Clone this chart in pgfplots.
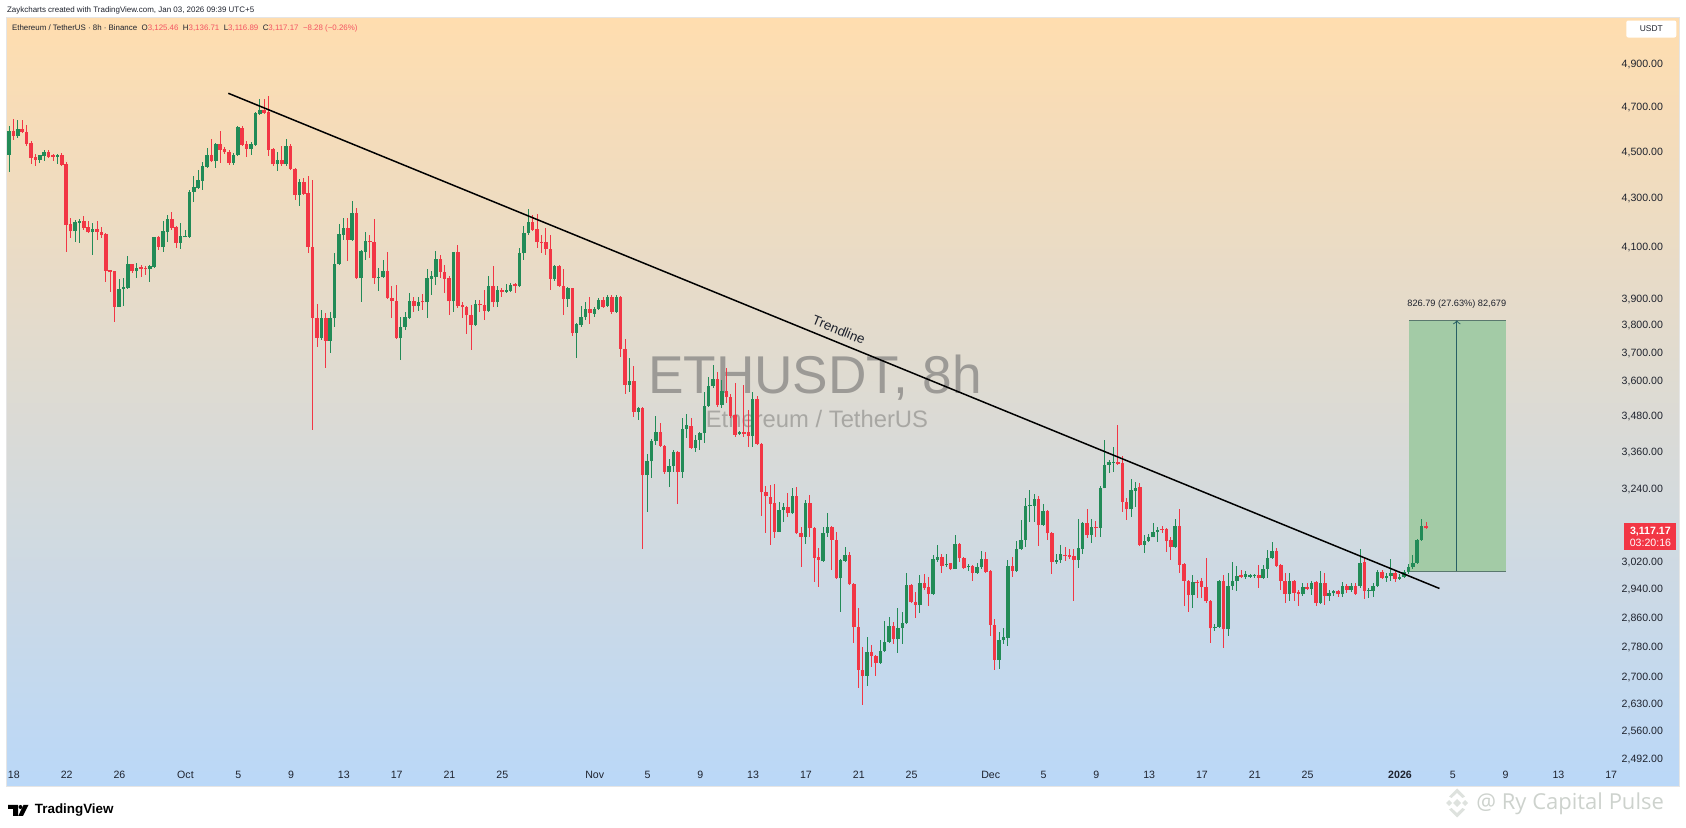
\documentclass[border=0pt]{standalone}
\usepackage{fontspec}
\setmainfont{Liberation Sans}
\newfontfamily\wmfont{Open Sans}
\usepackage{pgfplots}
\usepackage{pgfplotstable}
\pgfplotsset{compat=1.18}
\definecolor{tvg}{HTML}{228B57}
\definecolor{tvr}{HTML}{F23645}
\definecolor{tvtxt}{HTML}{1E222D}
\definecolor{rectg}{HTML}{A3CBA6}
\newcommand{\fs}[1]{\fontsize{#1}{#1}\selectfont}
\pgfplotstableread{
n top bot hi lo
1 4588 4483 4611 4408
3 4596 4566 4638 4556
8 4480 4460 4483 4447
9 4495 4476 4505 4454
12 4480 4474 4487 4442
16 4197 4161 4208 4120
17 4201 4194 4211 4113
20 4169 4157 4194 4067
26 3935 3867 3972 3867
27 3941 3933 3976 3870
28 4030 3940 4063 3937
30 4016 4002 4034 3976
33 4021 4011 4028 3963
34 4137 4018 4140 4017
36 4163 4100 4201 4080
37 4212 4160 4228 4120
40 4141 4115 4194 4090
41 4142 4137 4167 4137
42 4325 4140 4330 4137
43 4344 4325 4389 4283
44 4372 4340 4418 4335
45 4435 4371 4451 4333
46 4483 4431 4512 4425
48 4531 4454 4534 4425
52 4483 4447 4490 4439
53 4605 4483 4611 4480
56 4528 4509 4537 4483
57 4668 4527 4672 4524
58 4680 4665 4731 4661
62 4458 4441 4493 4411
64 4523 4441 4553 4436
67 4365 4310 4378 4263
72 3824 3752 3855 3744
74 3824 3742 3849 3696
75 4032 3824 4076 3793
76 4149 4030 4191 4028
77 4174 4146 4215 4127
79 4235 4127 4286 4124
81 4083 3976 4087 3886
82 4121 4078 4160 4047
85 3982 3976 4015 3927
86 4002 3980 4045 3976
90 3790 3750 3830 3672
91 3828 3790 3849 3780
92 3888 3826 3918 3824
94 3885 3871 3905 3852
96 3976 3883 4011 3824
97 3983 3975 4002 3912
98 4052 3979 4084 3951
102 4078 3887 4080 3849
107 3878 3799 3893 3796
110 3945 3852 3985 3849
112 3930 3883 3945 3868
114 3929 3924 3955 3922
115 3951 3927 3957 3923
117 4073 3945 4095 3943
118 4155 4073 4181 4047
119 4199 4155 4252 4148
125 4021 3975 4028 3964
128 3937 3898 3943 3868
130 3802 3769 3805 3679
131 3829 3799 3871 3793
132 3859 3827 3883 3818
134 3859 3841 3868 3830
135 3893 3859 3899 3856
137 3905 3871 3912 3865
139 3903 3849 3912 3842
142 3599 3583 3679 3560
144 3504 3492 3507 3464
146 3329 3283 3352 3166
147 3395 3327 3399 3274
148 3422 3395 3477 3381
151 3313 3294 3334 3244
152 3357 3312 3364 3294
154 3433 3294 3469 3272
155 3445 3433 3484 3402
157 3397 3372 3414 3356
158 3419 3397 3425 3364
159 3511 3419 3560 3386
160 3581 3511 3613 3509
161 3605 3581 3654 3572
163 3564 3515 3601 3503
167 3423 3416 3428 3413
170 3535 3410 3560 3375
176 3173 3107 3199 3107
177 3182 3173 3194 3138
179 3216 3163 3241 3160
182 3194 3092 3204 3070
186 3102 3021 3122 3018
187 3122 3102 3165 3092
190 3023 2969 3025 2873
191 3037 3021 3062 3018
196 2763 2701 2804 2675
199 2766 2735 2796 2734
200 2792 2766 2849 2765
201 2835 2791 2860 2789
203 2828 2798 2884 2762
204 2844 2828 2874 2785
205 2950 2842 2984 2840
208 2957 2893 2979 2870
211 3025 2924 3037 2923
212 3032 3023 3067 3018
214 3012 3007 3039 3003
216 3070 2996 3096 2996
219 3005 3002 3011 2989
221 3003 2986 3013 2982
222 3025 3001 3050 2995
226 2796 2742 2817 2719
227 2804 2795 2828 2785
228 3005 2802 3023 2781
230 3055 2991 3080 2987
231 3082 3054 3144 3052
232 3184 3082 3210 3062
233 3188 3184 3236 3137
234 3206 3186 3222 3137
236 3170 3127 3192 3124
239 3023 3017 3039 3011
240 3040 3023 3067 3013
244 3057 3023 3147 2998
245 3132 3056 3137 3039
247 3122 3097 3147 3074
249 3243 3119 3248 3092
250 3316 3241 3397 3241
251 3326 3316 3332 3289
252 3326 3323 3373 3294
256 3236 3175 3269 3152
257 3243 3234 3262 3182
259 3080 3067 3097 3044
260 3092 3080 3100 3077
261 3107 3090 3132 3090
262 3112 3107 3120 3077
266 3125 3060 3147 3057
270 2960 2921 2979 2886
275 2833 2829 2840 2822
276 2962 2833 2965 2828
278 2948 2826 2984 2807
279 2962 2948 3018 2936
280 2977 2962 3005 2933
282 2981 2974 2989 2966
283 2978 2974 2982 2969
284 2978 2975 2981 2969
286 2997 2971 3008 2969
287 3027 2997 3052 2969
288 3050 3027 3075 3025
292 2962 2924 2984 2903
295 2943 2923 2957 2920
297 2957 2938 2962 2921
299 2955 2900 2989 2896
301 2927 2920 2936 2903
302 2932 2926 2936 2919
304 2948 2923 2958 2917
306 2947 2936 2955 2931
308 3015 2947 3055 2940
310 2936 2933 2940 2914
311 2948 2934 2955 2915
312 2987 2947 2992 2945
314 2976 2970 2986 2959
315 2984 2976 3025 2962
317 2974 2968 2982 2966
318 2988 2974 2994 2972
319 3003 2987 3011 2982
320 3015 3001 3037 2995
321 3082 3015 3084 3013
322 3124 3082 3147 3080
}\greencandles
\pgfplotstableread{
n top bot hi lo
2 4588 4566 4641 4549
4 4596 4581 4635 4578
5 4584 4531 4615 4520
6 4534 4468 4541 4442
7 4471 4461 4487 4435
10 4495 4474 4505 4468
11 4483 4474 4487 4454
13 4480 4439 4490 4436
14 4444 4187 4450 4078
15 4190 4161 4215 4133
18 4201 4176 4222 4167
19 4177 4157 4201 4153
21 4171 4160 4201 4127
22 4160 4146 4180 4133
23 4150 4004 4153 3963
24 4006 3999 4008 3924
25 4002 3867 4002 3811
29 4030 4002 4032 3998
31 4018 4013 4028 3980
32 4016 4011 4024 3989
35 4137 4100 4142 4087
38 4211 4175 4239 4167
39 4179 4115 4183 4094
47 4482 4454 4553 4451
49 4531 4505 4586 4447
50 4509 4493 4515 4487
51 4493 4447 4505 4439
54 4602 4525 4608 4523
55 4528 4509 4541 4473
59 4680 4668 4731 4664
60 4675 4505 4748 4476
61 4509 4442 4512 4436
63 4458 4441 4520 4436
65 4523 4422 4528 4418
66 4422 4310 4425 4290
68 4365 4315 4382 4311
69 4318 4100 4389 4074
70 4100 3826 4375 3430
71 3824 3752 3877 3720
73 3824 3742 3842 3642
78 4174 4127 4215 4041
80 4235 3976 4256 3972
83 4124 4117 4146 4054
84 4119 3976 4212 3956
87 4002 3901 4080 3898
88 3902 3888 3946 3824
89 3890 3752 3950 3750
93 3888 3871 3905 3846
95 3887 3883 3915 3856
99 4052 4000 4068 3976
100 4000 3974 4028 3918
101 3976 3887 3983 3838
103 4078 3871 4105 3862
104 3874 3865 3884 3824
105 3867 3836 3871 3766
106 3838 3799 3874 3708
108 3878 3872 3893 3849
109 3873 3852 3930 3818
111 3945 3883 4021 3868
113 3930 3924 3937 3905
116 3952 3945 3957 3918
120 4199 4168 4228 4161
121 4171 4117 4231 4093
122 4120 4114 4148 4073
123 4117 4090 4175 4066
124 4091 3975 4148 3930
126 4021 3945 4028 3943
127 3948 3898 4011 3838
129 3937 3769 3939 3759
133 3858 3842 3903 3803
136 3891 3868 3903 3862
138 3905 3849 3912 3840
140 3905 3712 3908 3683
141 3712 3583 3747 3554
143 3599 3492 3651 3473
145 3504 3283 3509 3054
149 3422 3377 3452 3373
150 3378 3294 3381 3288
153 3357 3294 3362 3192
156 3443 3372 3469 3370
162 3605 3515 3630 3509
164 3564 3541 3642 3520
165 3541 3478 3554 3469
166 3481 3414 3590 3408
168 3423 3417 3584 3408
169 3423 3410 3497 3375
171 3535 3384 3545 3381
172 3384 3228 3386 3155
173 3228 3216 3248 3104
174 3214 3192 3252 3067
175 3194 3107 3255 3087
178 3182 3163 3226 3151
180 3216 3102 3246 3099
181 3102 3092 3122 3003
183 3194 3117 3220 3092
184 3117 3029 3122 2958
185 3030 3023 3057 2945
188 3122 3082 3124 2994
189 3082 2969 3107 2966
192 3037 2952 3047 2950
193 2953 2831 2955 2789
194 2833 2716 2884 2668
195 2716 2701 2778 2625
197 2763 2753 2783 2725
198 2754 2735 2756 2701
202 2835 2798 2846 2785
206 2950 2901 2953 2898
207 2901 2893 2931 2856
209 2957 2942 2982 2936
210 2943 2924 2974 2889
213 3032 3006 3040 2986
215 3013 2996 3015 2994
217 3070 3027 3072 3018
218 3027 3000 3032 2997
220 3005 2986 3008 2962
223 3025 2988 3047 2986
224 2991 2837 2994 2806
225 2837 2742 2853 2716
229 3005 2991 3030 2972
235 3206 3127 3217 3064
237 3170 3102 3173 3082
238 3104 3018 3107 2982
241 3038 3034 3060 3021
242 3038 3032 3054 3025
243 3034 3023 3054 2905
246 3132 3097 3178 3087
248 3122 3117 3140 3090
253 3326 3320 3446 3316
254 3323 3198 3344 3166
255 3199 3175 3210 3142
258 3244 3067 3257 3064
263 3115 3111 3125 3102
264 3115 3080 3118 3047
265 3082 3060 3092 3023
267 3125 3008 3175 2984
268 3010 2962 3015 2891
269 2962 2921 2965 2874
271 2960 2955 2965 2912
272 2961 2944 2969 2912
273 2944 2903 3027 2898
274 2903 2828 2907 2789
277 2962 2826 2979 2774
281 2978 2974 2992 2972
285 2980 2971 3008 2940
289 3050 3006 3057 3003
290 3007 2962 3011 2936
291 2962 2924 2984 2900
293 2962 2928 2965 2903
294 2930 2923 2936 2889
296 2943 2938 2955 2936
298 2959 2899 2962 2889
300 2955 2920 2984 2893
303 2934 2923 2936 2917
305 2947 2936 2953 2928
307 2947 2924 2957 2921
309 3018 2933 3032 2909
313 2987 2971 2994 2966
316 2984 2968 2994 2958
323 3125.46 3117.17 3136.71 3116.89
}\redcandles
\begin{document}
\begin{tikzpicture}[x=0.5pt,y=0.5pt]
\useasboundingbox (0,0) rectangle (1686,828);
\begin{axis}[
  at={(3pt,20.5pt)},anchor=south west,scale only axis,
  width=836.5pt,height=384.5pt,
  ymode=log,xmin=0.318,xmax=380.5,ymin=2424,ymax=5121,
  axis line style={draw=black!10,line width=0.4pt},
  axis background/.style={shade,top color={rgb,255:red,255;green,221;blue,175},middle color={rgb,255:red,221;green,221;blue,214},bottom color={rgb,255:red,186;green,216;blue,248}},
  major tick length=0pt,yminorticks=false,xminorticks=false,
  xtick={2.1,14.1,26.1,41.1,53.1,65.1,77.1,89.1,101.1,113.1,134.1,146.1,158.1,170.1,182.1,194.1,206.1,224.1,236.1,248.1,260.1,272.1,284.1,296.1,317.1,329.1,341.1,353.1,365.1},
  xticklabels={18,22,26,Oct,5,9,13,17,21,25,Nov,5,9,13,17,21,25,Dec,5,9,13,17,21,25,\textbf{2026},5,9,13,17},
  ytick={2492,2560,2630,2700,2780,2860,2940,3020,3240,3360,3480,3600,3700,3800,3900,4100,4300,4500,4700,4900},
  yticklabels={{2,492.00},{2,560.00},{2,630.00},{2,700.00},{2,780.00},{2,860.00},{2,940.00},{3,020.00},{3,240.00},{3,360.00},{3,480.00},{3,600.00},{3,700.00},{3,800.00},{3,900.00},{4,100.00},{4,300.00},{4,500.00},{4,700.00},{4,900.00}},
  yticklabel pos=right,
  yticklabel style={anchor=east,xshift=-4.5pt,yshift=-0.6pt,font=\fs{5.3},text=tvtxt},
  xticklabel style={anchor=center,yshift=6pt,font=\fs{5.3},text=tvtxt},
]
\node[font=\fs{26.6},text={rgb,255:red,156;green,154;blue,150},inner sep=0] at (axis cs:184.2,3608) {ETHUSDT, 8h};
\node[font=\fs{11.9},text={rgb,255:red,168;green,167;blue,163},inner sep=0] at (axis cs:184.6,3467) {Ethereum / TetherUS};
\addplot[fill=rectg,draw=none] coordinates {(319.2,2990) (341.2,2990) (341.2,3816.8) (319.2,3816.8)} --cycle;
\addplot[draw={rgb,255:red,90;green,120;blue,110},line width=0.5pt] coordinates {(319.2,2990) (341.2,2990)};
\addplot[draw={rgb,255:red,90;green,120;blue,110},line width=0.5pt] coordinates {(319.2,3816.8) (341.2,3816.8)};
\addplot[draw={rgb,255:red,40;green,95;blue,100},line width=0.5pt,->] coordinates {(330,2990) (330,3816.8)};
% wicks
\addplot[draw=none,mark=none,forget plot,error bars/.cd,y dir=both,y explicit,error mark=none,
  error bar style={draw=tvg,line width=0.45pt}] table[x=n,y=bot,y error plus expr=\thisrow{hi}-\thisrow{bot},y error minus expr=\thisrow{bot}-\thisrow{lo}] {\greencandles};
\addplot[draw=none,mark=none,forget plot,error bars/.cd,y dir=both,y explicit,error mark=none,
  error bar style={draw=tvr,line width=0.45pt}] table[x=n,y=bot,y error plus expr=\thisrow{hi}-\thisrow{bot},y error minus expr=\thisrow{bot}-\thisrow{lo}] {\redcandles};
% bodies
\addplot[draw=none,mark=none,forget plot,error bars/.cd,y dir=plus,y explicit,error mark=none,
  error bar style={draw=tvg,line width=1.75pt}] table[x=n,y=bot,y error plus expr=\thisrow{top}-\thisrow{bot}] {\greencandles};
\addplot[draw=none,mark=none,forget plot,error bars/.cd,y dir=plus,y explicit,error mark=none,
  error bar style={draw=tvr,line width=1.75pt}] table[x=n,y=bot,y error plus expr=\thisrow{top}-\thisrow{bot}] {\redcandles};
% trend line
\addplot[black,line width=0.75pt] coordinates {(50.84,4759) (326.07,2940)};
\node[font=\fs{6.7},rotate=-22,inner sep=0,text=tvtxt] at (axis cs:189.6,3781) {Trendline};
\node[font=\fs{4.6},inner sep=0,text=tvtxt] at (axis cs:330,3878) {826.79 (27.63\%) 82,679};
\node[fill=tvr,text=white,font=\fs{5.3},inner sep=0,minimum width=26pt,minimum height=13.6pt,align=center] at (axis cs:374,3092) {\textbf{3,117.17}\\[1pt]03:20:16};
\node[fill=white,rounded corners=1pt,inner sep=0,minimum width=25pt,minimum height=8.5pt,font=\fs{4.2},text=tvtxt] at (axis cs:374.2,5066) {USDT\hspace{10pt}};
\end{axis}
% header texts
\node[anchor=west,inner sep=0,font=\fs{3.98},text=tvtxt] at (6.7,818) {Zaykcharts created with TradingView.com, Jan 03, 2026 09:39 UTC+5};
\node[anchor=west,inner sep=0,font=\fs{3.95},text=tvtxt] at (11.7,800) {Ethereum / TetherUS · 8h · Binance\hspace{2.2pt}O\textcolor{tvr!85}{3,125.46}\hspace{2.2pt}H\textcolor{tvr!85}{3,136.71}\hspace{2.2pt}L\textcolor{tvr!85}{3,116.89}\hspace{2.2pt}C\textcolor{tvr!85}{3,117.17}\hspace{2.2pt}\textcolor{tvr!85}{−8.28 (−0.26\%)}};
% TradingView logo
\begin{scope}[yshift=-1pt]
\fill[black] (8,25) -- (18,25) -- (18,14) -- (13,14) -- (13,21) -- (8,21) -- cycle;
\fill[black] (20.5,23) circle (2);
\fill[black] (23.5,25) -- (28.5,25) -- (23,14) -- (18.2,14) -- cycle;
\end{scope}
\node[anchor=west,inner sep=0,font=\fs{6.7}\bfseries,text=black] at (34.5,18) {TradingView};
% bottom-right watermark
\begin{scope}[shift={(1457,25)},fill={rgb,255:red,222;green,226;blue,222}]
\fill (0,4) -- (4,0) -- (0,-4) -- (-4,0) -- cycle;
\fill (-11,0) -- (-8,3) -- (-5,0) -- (-8,-3) -- cycle;
\fill (11,0) -- (8,3) -- (5,0) -- (8,-3) -- cycle;
\fill (-8,6.5) -- (0,14.5) -- (8,6.5) -- (5.5,5) -- (0,10) -- (-5.5,5) -- cycle;
\fill (-8,-6.5) -- (0,-14.5) -- (8,-6.5) -- (5.5,-5) -- (0,-10) -- (-5.5,-5) -- cycle;
\end{scope}
\node[anchor=west,inner sep=0,font=\wmfont\fs{11},text={rgb,255:red,205;green,210;blue,205}] at (1476,24) {@ Ry Capital Pulse};
\end{tikzpicture}
\end{document}
